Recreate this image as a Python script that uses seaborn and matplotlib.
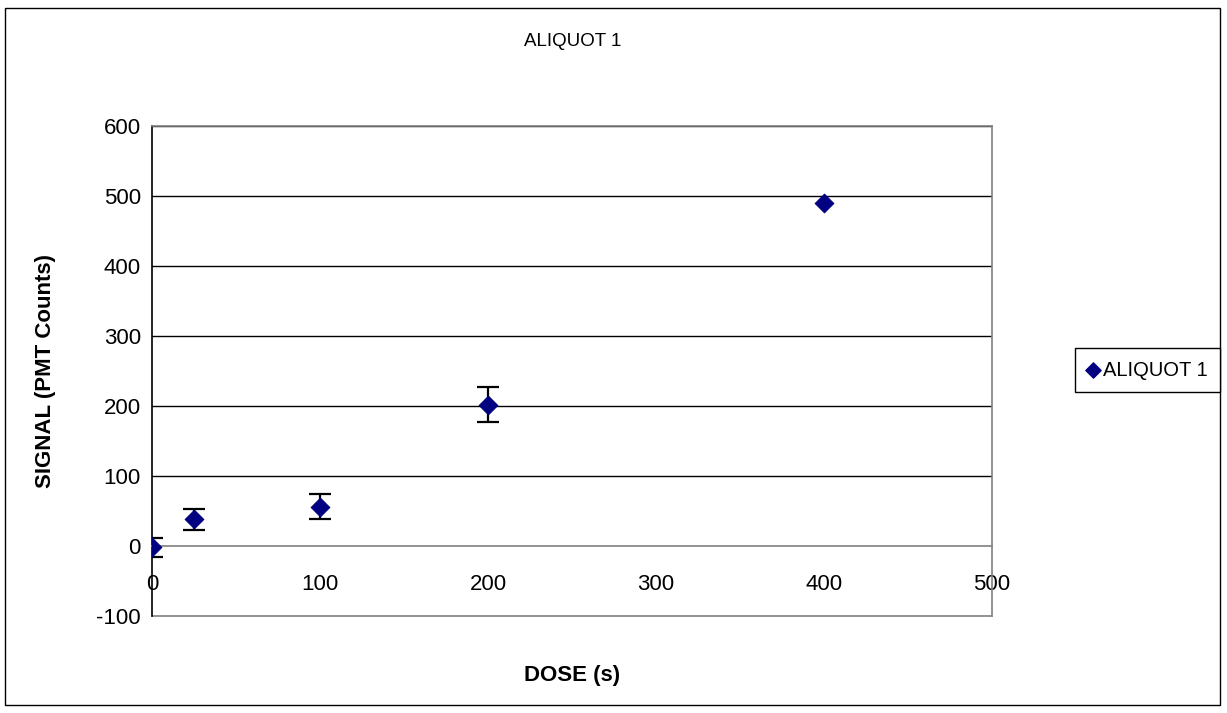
import numpy as np
import pandas as pd
import matplotlib
matplotlib.use("Agg")
import matplotlib.pyplot as plt
import seaborn as sns
from matplotlib.patches import Rectangle

# data
dose = [0, 25, 100, 200, 400]
signal = [-2, 38, 56, 202, 490]
err = [13.5, 15.5, 18, 25, 0]

df = pd.DataFrame({"DOSE (s)": dose, "SIGNAL": signal, "err": err})

sns.set_style("white")
plt.rcParams["font.family"] = ["Liberation Sans", "DejaVu Sans"]
plt.rcParams["axes.unicode_minus"] = False
plt.rcParams["text.color"] = "black"
plt.rcParams["axes.labelcolor"] = "black"
plt.rcParams["xtick.color"] = "black"
plt.rcParams["ytick.color"] = "black"

fig = plt.figure(figsize=(12.27, 7.13), dpi=100)
ax = fig.add_axes([152 / 1227, 1 - 616 / 713, (992 - 152) / 1227, (616 - 126) / 713])

# error bars first so markers sit on top (last point has none)
eb = df[df["err"] > 0]
ax.errorbar(eb["DOSE (s)"], eb["SIGNAL"], yerr=eb["err"], fmt="none",
            ecolor="black", elinewidth=1.6, capsize=8, capthick=1.6, zorder=3)
sns.scatterplot(data=df, x="DOSE (s)", y="SIGNAL", marker="D", s=90,
                color="#000080", edgecolor="#000080",
                ax=ax, zorder=4, legend=False)

ax.set_xlim(0, 500)
ax.set_ylim(-100, 600)
ax.set_xticks(range(0, 501, 100))
ax.set_yticks(range(-100, 601, 100))

# horizontal grid lines in black
for yv in range(100, 601, 100):
    ax.axhline(yv, color="black", lw=1, zorder=1)

for s in ["top", "right"]:
    ax.spines[s].set_color("#808080")
    ax.spines[s].set_linewidth(1.2)
ax.spines["left"].set_color("black")
ax.spines["left"].set_linewidth(1.2)

# x axis crosses at y=0 like Excel, bottom border stays at -100
ax.spines["bottom"].set_position(("data", 0))
ax.spines["bottom"].set_color("#808080")
ax.spines["bottom"].set_linewidth(1.2)
ax.plot([0, 1], [0, 0], transform=ax.transAxes, color="#808080", lw=1.2, clip_on=False)

ax.tick_params(axis="x", direction="out", length=5, color="#808080", labelsize=16, pad=15)
ax.tick_params(axis="y", direction="out", length=5, color="black", labelsize=16, pad=3)

ax.set_xlabel("DOSE (s)", fontsize=16, fontweight="bold")
ax.set_ylabel("SIGNAL (PMT Counts)", fontsize=16, fontweight="bold")
ax.xaxis.set_label_coords(0.5, (616 - 665) / 490, transform=ax.transAxes)
ax.yaxis.set_label_coords((56 - 152) / 840, 0.5, transform=ax.transAxes)
fig.text(573 / 1227, 1 - 42 / 713, "ALIQUOT 1", ha="center", va="center", fontsize=13.5)

handle = ax.scatter([], [], marker="D", s=60, color="#000080")
fig.legend([handle], ["ALIQUOT 1"], loc="center right",
           bbox_to_anchor=(1220 / 1227, 1 - 370 / 713), fontsize=14.5,
           frameon=True, fancybox=False, edgecolor="black", framealpha=1,
           handlelength=0.6, handletextpad=0.2, borderpad=0.6, borderaxespad=0)

fig.patches.append(Rectangle((5 / 1227, 8 / 713), 1215 / 1227, 697 / 713,
                             transform=fig.transFigure, fill=False,
                             edgecolor="black", lw=1))

fig.savefig("out.png", dpi=100)
